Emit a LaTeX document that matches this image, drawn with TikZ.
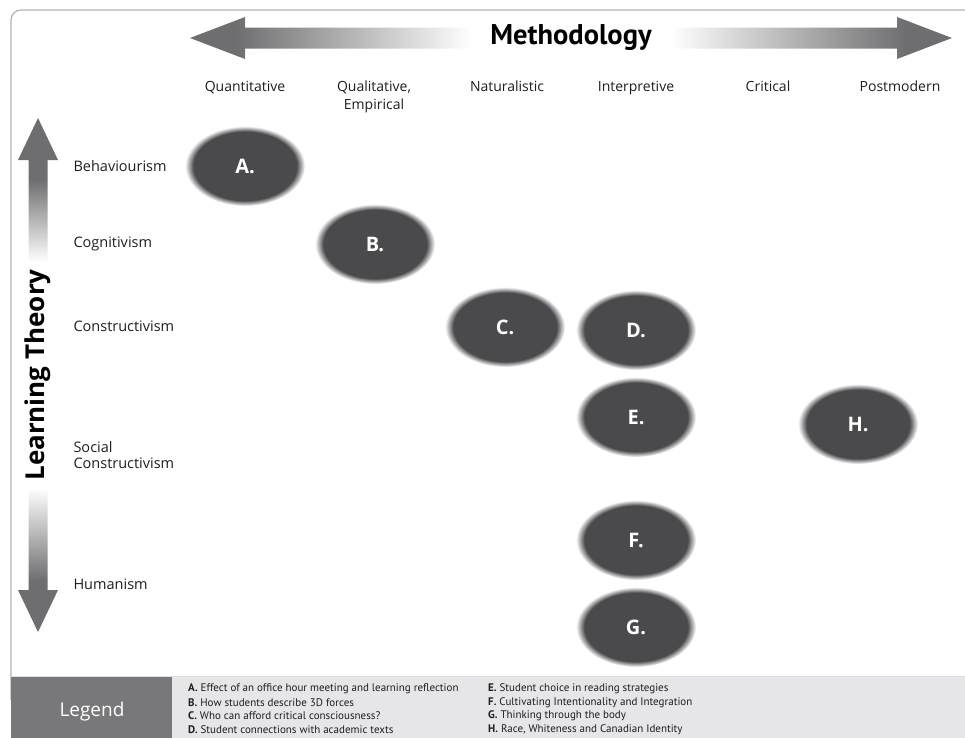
\documentclass[tikz,border=0pt]{standalone}
\usepackage{fontspec}
\setmainfont{Open Sans}
\newfontfamily\myr{PT Sans}
\definecolor{blobc}{HTML}{4A4A4D}
\definecolor{arrc}{HTML}{6E6E70}
\definecolor{framec}{HTML}{B4B4B4}
\definecolor{legdark}{HTML}{78787A}
\definecolor{leglight}{HTML}{E6E5E8}
\definecolor{txt}{HTML}{1E1E1E}
\pgfdeclareradialshading{blobshade}{\pgfpoint{0bp}{0bp}}{color(0bp)=(blobc); color(21.5bp)=(blobc); color(25bp)=(white); color(50bp)=(white)}
\pgfdeclarehorizontalshading{hshade}{100bp}{color(0bp)=(arrc); color(28bp)=(arrc); color(43.5bp)=(white); color(56.5bp)=(white); color(72bp)=(arrc); color(100bp)=(arrc)}
\pgfdeclareverticalshading{vshade}{100bp}{color(0bp)=(arrc); color(30bp)=(arrc); color(39bp)=(white); color(61bp)=(white); color(69bp)=(arrc); color(100bp)=(arrc)}
\begin{document}
\begin{tikzpicture}[x=1pt,y=-1pt,
  bloblab/.style={text=white, font=\fontsize{20}{20}\selectfont\bfseries},
  collab/.style={font=\fontsize{14}{18}\selectfont, text=txt, align=center, anchor=base},
  rowlab/.style={font=\fontsize{14.5}{16.5}\selectfont, text=txt, anchor=west, align=left},
  legitem/.style={anchor=west, inner sep=0pt, font=\myr\fontsize{11}{11}\selectfont, text=txt}
]
\useasboundingbox (0,0) rectangle (965,737);
% frame
\draw[framec, line width=1.2pt, rounded corners=10pt] (11,700) -- (11,10) -- (990,10) -- (990,700);
% legend band
\fill[leglight] (11,677) rectangle (975,740);
\fill[legdark] (11,677) rectangle (172,740);
\draw[black!12, line width=1pt] (11,676.5) -- (975,676.5);
\node[text=white, font=\fontsize{19}{19}\selectfont] (legend) at (92,712) {Legend};
% legend entries
\node[legitem] (la) at (188,689) {\textbf{A.} Effect of an office hour meeting and learning reflection};
\node[legitem] (lb) at (188,702.5) {\textbf{B.} How students describe 3D forces};
\node[legitem] (lc) at (188,716) {\textbf{C.} Who can afford critical consciousness?};
\node[legitem] (ld) at (188,729.5) {\textbf{D.} Student connections with academic texts};
\node[legitem] (le) at (488,689) {\textbf{E.} Student choice in reading strategies};
\node[legitem] (lf) at (488,702.5) {\textbf{F.} Cultivating Intentionality and Integration};
\node[legitem] (lg) at (488,716) {\textbf{G.} Thinking through the body};
\node[legitem] (lh) at (488,729.5) {\textbf{H.} Race, Whiteness and Canadian Identity};
% methodology arrow
\shade[shading=hshade] (190,38) -- (245,17) -- (245,27.5) -- (897,27.5) -- (897,17) -- (952,38) -- (897,59) -- (897,48.5) -- (245,48.5) -- (245,59) -- cycle;
\node[font=\myr\fontsize{28.5}{28.5}\selectfont\bfseries, text=black] (meth) at (571,38) {Methodology};
% learning theory arrow
\shade[shading=vshade] (38,118) -- (58,160) -- (47.5,160) -- (47.5,590) -- (58,590) -- (38,632) -- (18,590) -- (28.5,590) -- (28.5,160) -- (18,160) -- cycle;
\node[rotate=90, fill=white, inner sep=3pt, font=\fontsize{26}{26}\selectfont\bfseries, text=black] (lt) at (38,375) {Learning Theory};
% column labels
\node[collab] (c1) at (245,91) {Quantitative};
\node[collab] (c2) at (374,109) {Qualitative,\\Empirical};
\node[collab] (c3) at (507,91) {Naturalistic};
\node[collab] (c4) at (636,91) {Interpretive};
\node[collab] (c5) at (768,91) {Critical};
\node[collab] (c6) at (900,91) {Postmodern};
% row labels
\node[rowlab] (r1) at (70,166) {Behaviourism};
\node[rowlab] (r2) at (70,244) {Cognitivism};
\node[rowlab] (r3) at (70,326) {Constructivism};
\node[rowlab] (r4) at (70,455) {Social\\Constructivism};
\node[rowlab] (r5) at (70,584) {Humanism};
% blobs
\foreach \n/\x/\y in {A/245/166, B/375/244, C/505/327, D/636/330, E/636/417, F/636/540, G/636/627, H/858/424}{
  \shade[shading=blobshade] (\x,\y) ellipse [x radius=60, y radius=40];
  \node[bloblab] (b\n) at (\x,\y) {\n.};
}
\end{tikzpicture}
\end{document}
